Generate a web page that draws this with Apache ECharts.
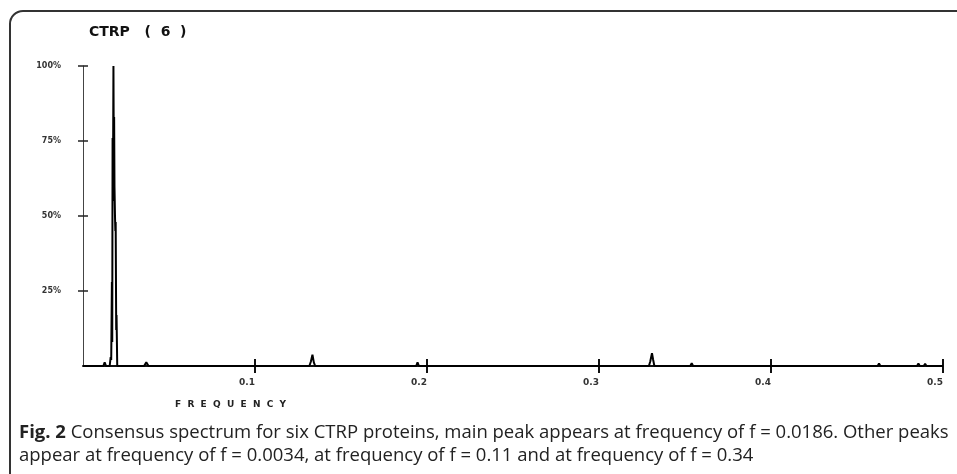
<!DOCTYPE html>
<html>
<head>
<meta charset="utf-8">
<script src="https://cdn.jsdelivr.net/npm/echarts@6/dist/echarts.min.js"></script>
<style>html,body{margin:0;padding:0;background:#fff;}#c{width:957px;height:474px;}</style>
</head>
<body>
<div id="c"></div>
<script>
// Spectrum (frequency, amplitude %)
var freq = [0, 0.0118, 0.0126, 0.0134, 0.0155, 0.0161, 0.0164, 0.0168, 0.0170, 0.0172, 0.0174, 0.0177, 0.0179, 0.0181, 0.0183, 0.0186, 0.0188, 0.0190, 0.0193, 0.0195, 0.0199,
  0.0355, 0.0368, 0.0381,
  0.0758, 0.0766, 0.0774, 0.0783, 0.0790,
  0.1316, 0.1325, 0.1334, 0.1342, 0.1350,
  0.1553, 0.1561, 0.1569,
  0.1896, 0.1904, 0.1912, 0.1937, 0.1945, 0.1953,
  0.2526, 0.2534, 0.2542,
  0.2887, 0.2895, 0.2903,
  0.3104, 0.3112, 0.3120,
  0.3234, 0.3242, 0.3250, 0.3261, 0.3270,
  0.3290, 0.3298, 0.3308, 0.3315, 0.3322,
  0.3498, 0.3506, 0.3514, 0.3531, 0.3539, 0.3547,
  0.4176, 0.4184, 0.4192,
  0.4620, 0.4628, 0.4636,
  0.4789, 0.4797, 0.4805, 0.4849, 0.4857, 0.4865, 0.4888, 0.4896, 0.4904, 0.4956, 0.4964, 0.4972,
  0.5];
var amp = [0, 0, 1.2, 0, 0, 3, 2, 28, 8, 76, 55, 100, 70, 83, 60, 50, 45, 48, 12, 17, 0,
  0, 1.2, 0,
  0, 0.5, 0, 0.4, 0,
  0, 1.5, 3.8, 1.2, 0,
  0, 0.5, 0,
  0, 0.5, 0, 0, 1.2, 0,
  0, 0.4, 0,
  0, 0.5, 0,
  0, 0.5, 0,
  0, 0.5, 0, 0.6, 0,
  0, 1.5, 4.3, 2, 0,
  0, 0.5, 0, 0, 0.9, 0,
  0, 0.4, 0,
  0, 0.8, 0,
  0, 0.5, 0, 0, 0.8, 0, 0, 0.7, 0, 0, 0.4, 0,
  0];
var xTicks = [0.1, 0.2, 0.3, 0.4, 0.5];
var yTicks = [25, 50, 75, 100];
var titleText = 'CTRP   (  6  )';
var xName = 'F  R  E  Q  U  E  N  C  Y';
var caption1 = 'Consensus spectrum for six CTRP proteins, main peak appears at frequency of f = 0.0186. Other peaks';
var caption2 = 'appear at frequency of f = 0.0034, at frequency of f = 0.11 and at frequency of f = 0.34';

var pts = freq.map(function (f, i) { return [f, amp[i]]; });
var chart = echarts.init(document.getElementById('c'), null, {renderer: 'canvas'});
var lblFont = {fontFamily: 'DejaVu Sans', fontWeight: 'bold', fontSize: 8, color: '#333'};
chart.setOption({
  animation: false,
  backgroundColor: '#fff',
  grid: {left: 83, right: 14, top: 66, bottom: 108, containLabel: false},
  xAxis: [{
    type: 'value', min: 0, max: 0.5, interval: 0.1, position: 'bottom',
    axisLine: {show: true, onZero: false, lineStyle: {color: '#111', width: 2}},
    axisTick: {show: true, length: 7, inside: false, customValues: xTicks, lineStyle: {color: '#111', width: 2}},
    axisLabel: {show: true, customValues: xTicks, align: 'right', verticalAlign: 'top', margin: 12,
      fontFamily: 'DejaVu Sans', fontWeight: 'bold', fontSize: 9, color: '#333',
      formatter: function (v) { return String(Math.round(v * 10) / 10); }},
    splitLine: {show: false}
  }, {
    type: 'value', min: 0, max: 0.5, interval: 0.1, position: 'bottom',
    axisLine: {show: false},
    axisTick: {show: true, length: 7, inside: true, customValues: xTicks, lineStyle: {color: '#111', width: 2}},
    axisLabel: {show: false}, splitLine: {show: false}
  }],
  yAxis: [{
    type: 'value', min: 0, max: 100, interval: 25,
    axisLine: {show: true, onZero: false, lineStyle: {color: '#444', width: 1}},
    axisTick: {show: true, length: 5, inside: false, customValues: yTicks, lineStyle: {color: '#222', width: 1.5}},
    axisLabel: Object.assign({show: true, customValues: yTicks, margin: 22, align: 'right', verticalAlign: 'middle',
      padding: [6, 0, 0, 0], formatter: function (v) { return v + '%'; }}, lblFont),
    splitLine: {show: false}
  }, {
    type: 'value', min: 0, max: 100, interval: 25, position: 'left',
    axisLine: {show: false},
    axisTick: {show: true, length: 5, inside: true, customValues: yTicks, lineStyle: {color: '#222', width: 1.5}},
    axisLabel: {show: false}, splitLine: {show: false}
  }],
  series: [{
    type: 'line', xAxisIndex: 0, yAxisIndex: 0, data: pts, symbol: 'none',
    lineStyle: {color: '#000', width: 2}, z: 3
  }],
  graphic: [
    {type: 'rect', shape: {x: 10, y: 11, width: 1100, height: 600, r: [13, 0, 0, 0]},
      style: {fill: 'none', stroke: '#333', lineWidth: 2}, silent: true},
    {type: 'text', left: 89, top: 25, style: {text: titleText, font: 'bold 14px "DejaVu Sans"', fill: '#111'}},
    {type: 'text', left: 175, top: 400, style: {text: xName, font: 'bold 9px "DejaVu Sans"', fill: '#222'}},
    {type: 'text', left: 19, top: 423, style: {
      text: '{b|Fig. 2} ' + caption1, font: '18.5px "Open Sans"', fill: '#222',
      rich: {b: {fontFamily: 'Open Sans', fontWeight: 'bold', fontSize: 18.5, fill: '#222'}}}},
    {type: 'text', left: 19, top: 446, style: {text: caption2, font: '18.5px "Open Sans"', fill: '#222'}}
  ]
});
</script>
</body>
</html>
